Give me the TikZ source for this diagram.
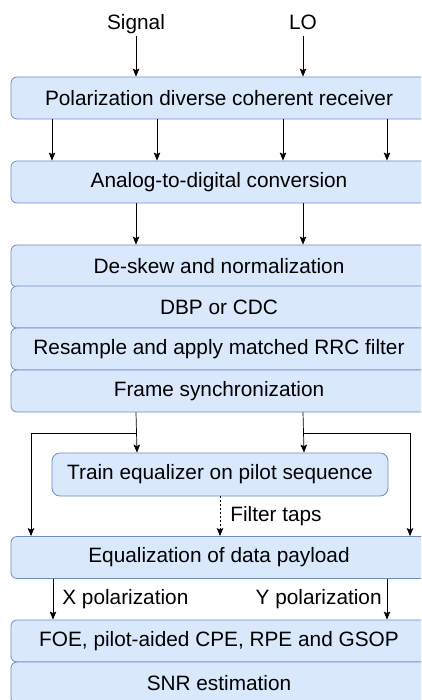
\documentclass[tikz,border=0pt]{standalone}
\usepackage{fontspec}
\setmainfont{Liberation Sans}
\usetikzlibrary{arrows.meta}
\definecolor{boxfill}{HTML}{DAE8FC}
\definecolor{boxline}{HTML}{6C8EBF}
\tikzset{
  block/.style={draw=boxline,fill=boxfill,line width=0.8pt,rounded corners=6pt,
    minimum width=416pt,minimum height=42pt,inner sep=0pt,font=\fontsize{20.8}{24}\selectfont},
  trainbox/.style={block,minimum width=336pt,minimum height=43pt,rounded corners=8pt},
  lbl/.style={font=\fontsize{20.8}{24}\selectfont,inner sep=0pt},
  arr/.style={-{Stealth[length=8pt,width=6.5pt,inset=1.5pt]},line width=0.7pt}
}
\begin{document}
\begin{tikzpicture}[x=1pt,y=-1pt]
  \useasboundingbox (0,0) rectangle (421,700);
  \clip (0,0) rectangle (421,700);
  % inputs
  \node[lbl,anchor=base,text depth=4pt,inner sep=2pt] (sig) at (136,30) {Signal};
  \node[lbl,anchor=base,text depth=4pt,inner sep=2pt] (lo) at (303,30) {LO};
  % processing chain
  \node[block] (rx) at (219,98) {Polarization diverse coherent receiver};
  \node[block] (adc) at (219,182) {Analog-to-digital conversion};
  \node[block] (desk) at (219,266) {De-skew and normalization};
  \node[block] (dbp) at (219,307) {DBP or CDC};
  \node[block] (rrc) at (219,349) {Resample and apply matched RRC filter};
  \node[block] (sync) at (219,391) {Frame synchronization};
  \node[trainbox] (train) at (220,474.5) {Train equalizer on pilot sequence};
  \node[block] (eq) at (219,557.5) {Equalization of data payload};
  \node[block] (foe) at (219,641) {FOE, pilot-aided CPE, RPE and GSOP};
  \node[block] (snr) at (219,683) {SNR estimation};
  % connectors
  \draw[arr] (sig) -- (sig |- rx.north);
  \draw[arr] (lo) -- (lo |- rx.north);
  \foreach \dx in {-167,-62,64,168}
    \draw[arr] ([xshift=\dx]rx.south) -- ([xshift=\dx]adc.north);
  \foreach \dx in {-83,84} {
    \draw[arr] ([xshift=\dx]adc.south) -- ([xshift=\dx]desk.north);
    \draw[arr] ([xshift=\dx]sync.south) -- ([xshift=\dx]train.north);
  }
  \draw[arr] ([xshift=-83]sync.south) ++(0,21) -| ([xshift=-188]eq.north);
  \draw[arr] ([xshift=84]sync.south) ++(0,21) -| ([xshift=191]eq.north);
  \draw[arr,dash pattern=on 2pt off 2pt] (train) -- (train |- eq.north)
    node[lbl,midway,anchor=west,xshift=10pt] {Filter taps};
  \draw[arr] ([xshift=-166]eq.south) -- ([xshift=-166]foe.north)
    node[lbl,midway,anchor=west,xshift=9pt] {X polarization};
  \draw[arr] ([xshift=168]eq.south) -- ([xshift=168]foe.north)
    node[lbl,midway,anchor=east,xshift=-5pt] {Y polarization};
\end{tikzpicture}
\end{document}
